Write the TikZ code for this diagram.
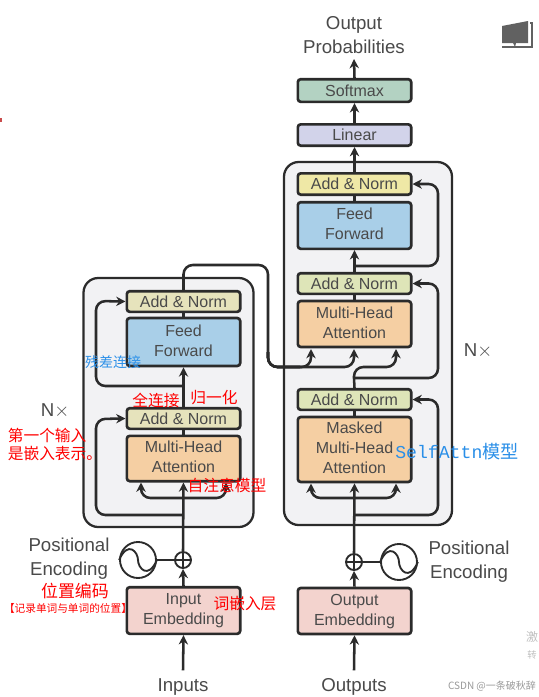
\documentclass[tikz,border=0pt]{standalone}
\usepackage{fontspec}
\usepackage{xcolor}
\setmainfont{Liberation Sans}
\newfontfamily\cjkfont{Noto Sans CJK SC}
\newfontfamily\monofont{Liberation Mono}
\usetikzlibrary{arrows.meta, positioning}
\definecolor{inkdark}{HTML}{2B2B2B}
\definecolor{txtgray}{HTML}{4A4A4A}
\definecolor{addleft}{HTML}{E6E3BC}
\definecolor{addtop}{HTML}{EFE8A6}
\definecolor{addmid}{HTML}{DEE5B8}
\definecolor{ffcol}{HTML}{A9CFE8}
\definecolor{attcol}{HTML}{F5CFA3}
\definecolor{embcol}{HTML}{F3D3CE}
\definecolor{softcol}{HTML}{B3D2C2}
\definecolor{lincol}{HTML}{D2D3EA}
\definecolor{stackcol}{HTML}{F2F2F4}
\definecolor{annblue}{HTML}{2A8FE8}

\begin{document}
\begin{tikzpicture}[
  x=0.75pt, y=-0.75pt,
  box/.style={draw=inkdark, line width=2pt, rounded corners=2.2pt, minimum width=85pt, align=center, inner sep=0pt, text=txtgray, font=\fontsize{12}{15}\selectfont},
  tallbox/.style={box, text depth=2pt},
  stack/.style={draw=inkdark, line width=1.7pt, rounded corners=11pt, fill=stackcol, inner sep=0pt},
  lab/.style={text=txtgray, align=center, inner sep=0pt, font=\fontsize{14}{18}\selectfont},
  note/.style={text=red, inner sep=0pt, font=\cjkfont\fontsize{11.8}{13.5}\selectfont, align=center},
  wave/.style={draw=inkdark, line width=1.4pt, circle, minimum size=27pt, inner sep=0pt},
  plus/.style={draw=inkdark, line width=1.4pt, circle, minimum size=12pt, inner sep=0pt},
  arr/.style={-{Stealth[length=7pt,width=7pt]}, line width=1.9pt, draw=inkdark, rounded corners=7pt},
  lin/.style={line width=1.9pt, draw=inkdark, rounded corners=7pt}
]
  \useasboundingbox (0,0) rectangle (539,697);
  \fill[white] (0,0) rectangle (539,697);

  % stacks
  \node[stack, minimum width=127.5pt, minimum height=186.75pt] (encstack) at (168.5,402.5) {};
  \node[stack, minimum width=126pt, minimum height=272.25pt] (decstack) at (368,343.5) {};

  % encoder
  \node[tallbox, fill=embcol, minimum height=35pt] (inemb) at (183.5,610.5) {Input\\Embedding};
  \node[tallbox, fill=attcol, minimum height=34pt] (enatt) at (183.5,458.5) {Multi-Head\\Attention};
  \node[box, fill=addleft, minimum height=15.5pt] (enadda) at (183.5,418.5) {Add \& Norm};
  \node[tallbox, fill=ffcol, minimum height=36pt] (enff) at (183.5,342) {Feed\\Forward};
  \node[box, fill=addleft, minimum height=15.5pt] (enaddb) at (183.5,301.5) {Add \& Norm};

  % decoder
  \node[tallbox, fill=embcol, minimum height=34.5pt] (outemb) at (354.5,611) {Output\\Embedding};
  \node[tallbox, fill=attcol, minimum height=48.75pt] (maskatt) at (354.5,449.5) {Masked\\Multi-Head\\Attention};
  \node[box, fill=addmid, minimum height=15.5pt] (deadda) at (354.5,399.5) {Add \& Norm};
  \node[tallbox, fill=attcol, minimum height=34.5pt] (deatt) at (354.5,324) {Multi-Head\\Attention};
  \node[box, fill=addmid, minimum height=15.5pt] (deaddb) at (354.5,283.5) {Add \& Norm};
  \node[tallbox, fill=ffcol, minimum height=35pt] (deff) at (354.5,225.5) {Feed\\Forward};
  \node[box, fill=addtop, minimum height=16pt] (deaddc) at (354.5,184) {Add \& Norm};
  \node[box, fill=lincol, minimum height=16pt] (linear) at (354.5,135) {Linear};
  \node[box, fill=softcol, minimum height=17pt] (softmax) at (354.5,90.5) {Softmax};

  % positional encoding
  \node[plus] (enplus) at (183,560) {};
  \node[wave] (enwave) at (138,560) {};
  \node[plus] (deplus) at (354,562) {};
  \node[wave] (dewave) at (399,562) {};
  \draw[line width=1.2pt, draw=inkdark] (enplus.west) -- (enplus.east) (enplus.north) -- (enplus.south);
  \draw[line width=1.2pt, draw=inkdark] (deplus.west) -- (deplus.east) (deplus.north) -- (deplus.south);
  \draw[line width=1.4pt, draw=inkdark] (enwave.west) .. controls (128,540) and (138,552) .. (enwave.center) .. controls (138,568) and (148,580) .. (enwave.east);
  \draw[line width=1.4pt, draw=inkdark] (dewave.west) .. controls (389,542) and (399,554) .. (dewave.center) .. controls (399,570) and (409,582) .. (dewave.east);
  \draw[lin] (enwave) -- (enplus);
  \draw[lin] (dewave) -- (deplus);

  % labels
  \node[lab] (inputs) at (183,687) {Inputs};
  \node[lab] (outputs) at (354,687) {Outputs};
  \node[lab] (outprob) at (354,35.5) {Output\\Probabilities};
  \node[lab] (enpos) at (69,559) {Positional\\Encoding};
  \node[lab] (depos) at (469,562) {Positional\\Encoding};
  \node[lab] (ennx) at (55,411) {N$\times$};
  \node[lab] (denx) at (478,351) {N$\times$};

  % coordinates of the branches
  \coordinate (enbranch) at (183,515);
  \coordinate (enatbranch) at (183,498);
  \coordinate (enffbranch) at (183,386);
  \coordinate (debranch) at (354,515);
  \coordinate (deatbranch) at (354,498);
  \coordinate (demid) at (354,378);
  \coordinate (defbranch) at (354,266);

  % encoder arrows
  \draw[arr] (inputs.north) ++(0,-8) -- (inemb.south);
  \draw[arr] (inemb.north) -- (enplus.south);
  \draw[arr] (enplus.north) -- (enatt.south);
  \draw[lin] (enatt.north) -- (enadda.south);
  \draw[arr] (enadda.north) -- (enff.south);
  \draw[lin] (enff.north) -- (enaddb.south);
  \draw[arr] (enbranch) -| (96,419) -- (enadda.west);
  \draw[arr] (enffbranch) -| (96,301) -- (enaddb.west);
  \draw[arr] (enatbranch) -| (141,482.5);
  \draw[arr] (enatbranch) -| (226,482.5);

  % encoder to decoder
  \draw[lin] (enaddb.north) |- (268,265) -- (268,367) -- (300,367);
  \draw[arr] (268,352) |- (311,367) -- (311,349);
  \draw[arr] (268,352) |- (354,367) -- (354,349);

  % decoder arrows
  \draw[arr] (outputs.north) ++(0,-8) -- (outemb.south);
  \draw[arr] (outemb.north) -- (deplus.south);
  \draw[arr] (deplus.north) -- (maskatt.south);
  \draw[lin] (maskatt.north) -- (deadda.south);
  \draw[lin] (deadda.north) -- (demid);
  \draw[arr] (demid) -- (354,367) -| (396,349);
  \draw[arr] (demid) -| (438,283.5) -- (deaddb.east);
  \draw[arr] (debranch) -| (438,399.5) -- (deadda.east);
  \draw[arr] (deatbranch) -| (311,483.5);
  \draw[arr] (deatbranch) -| (396,483.5);
  \draw[lin] (deatt.north) -- (deaddb.south);
  \draw[arr] (deaddb.north) -- (deff.south);
  \draw[lin] (deff.north) -- (deaddc.south);
  \draw[arr] (defbranch) -| (438,184) -- (deaddc.east);
  \draw[arr] (deaddc.north) -- (linear.south);
  \draw[arr] (linear.north) -- (softmax.south);
  \draw[arr] (softmax.north) -- (354,59);

  % annotations
  \node[note, text=annblue, font=\cjkfont\fontsize{10.5}{12}\selectfont] (ncanchai) at (113,362) {残差连接};
  \node[note] (nquan) at (156,400) {全连接};
  \node[note] (nguiyi) at (214,398) {归一化};
  \node[note, align=left] (nfirst) at (55,444) {第一个输入\\是嵌入表示。};
  \node[note] (nself) at (227,485) {自注意模型};
  \node[note, font=\cjkfont\fontsize{12.7}{14}\selectfont] (nweizhi) at (75,591) {位置编码};
  \node[note, font=\cjkfont\fontsize{8}{9}\selectfont] (njilu) at (68,608) {【记录单词与单词的位置】};
  \node[note] (nciqian) at (245,604) {词嵌入层};
  \node[note, text=annblue, font=\monofont\fontsize{13.6}{15}\selectfont] (nselfattn) at (457,452) {SelfAttn{\cjkfont 模型}};

  % corner marks
  \fill[black!62] (502,26) -- (528,21) -- (528,43) -- (516,43) -- (515,47) -- (513,43) -- (502,43) -- cycle;
  \draw[black!62, line width=1pt] (530,23) -- (532,23) -- (532,47) -- (502,47);
  \node[text=black!25, inner sep=0pt, font=\cjkfont\fontsize{9}{9}\selectfont] (wma) at (532,637) {激};
  \node[text=black!25, inner sep=0pt, font=\cjkfont\fontsize{7}{7}\selectfont] (wmb) at (532,655) {转};
  \node[text=black!40, inner sep=0pt, font=\cjkfont\fontsize{7.5}{9}\selectfont] (wmc) at (492,686) {CSDN @一条破秋辞};
  \fill[red!70!black!70] (0,118) rectangle (2,122);
\end{tikzpicture}
\end{document}
